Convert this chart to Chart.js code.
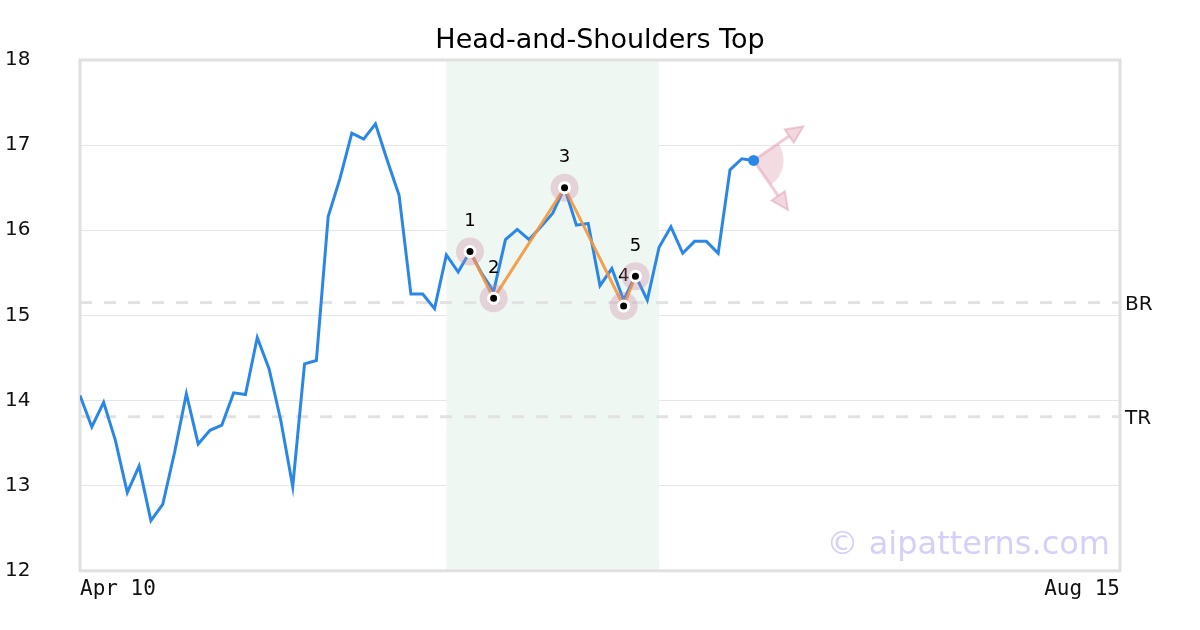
<!DOCTYPE html>
<html>
<head>
<meta charset="utf-8">
<script src="https://cdn.jsdelivr.net/npm/chart.js@4.4.0/dist/chart.umd.min.js"></script>
<style>
  body { margin: 0; background: #fff; }
</style>
</head>
<body>
<canvas id="hsChart" width="1200" height="630"></canvas>
<script>
// price series, one value per session (x = session index)
const prices = [
  14.06, 13.69, 13.98, 13.53, 12.92, 13.23, 12.59, 12.78, 13.39, 14.08,
  13.49, 13.65, 13.71, 14.09, 14.07, 14.74, 14.37, 13.76, 12.99, 14.43,
  14.47, 16.16, 16.61, 17.14, 17.07, 17.25, 16.82, 16.41, 15.25, 15.25,
  15.08, 15.71, 15.51, 15.75, 15.49, 15.28, 15.89, 16.01, 15.89, 16.04,
  16.20, 16.50, 16.06, 16.08, 15.35, 15.55, 15.18, 15.47, 15.18, 15.80,
  16.04, 15.73, 15.87, 15.87, 15.73, 16.71, 16.84, 16.82
]
const xTickLabels = ['Apr 10', 'Aug 15']
const xMax = 88
const chartTitle = 'Head-and-Shoulders Top'

// pattern pivots
const pivotIdx = [33, 35, 41, 46, 47]
const pivotVal = [15.75, 15.20, 16.50, 15.11, 15.46]
const pivotLabels = ['1', '2', '3', '4', '5']

// shaded pattern window (session indices)
const bandStart = 31
const bandEnd = 49

// reference levels
const levelNames = ['BR', 'TR']
const levelValues = [15.15, 13.81]

// projected direction arrows from the last price
const arrowX = [61.2, 59.9]
const arrowY = [17.22, 16.24]

const priceData = prices.map((v, i) => ({ x: i, y: v }))
const pivotData = pivotIdx.map((x, i) => ({ x: x, y: pivotVal[i] }))
const lastIdx = prices.length - 1

function drawArrow(ctx, x0, y0, x1, y1) {
  const ang = Math.atan2(y1 - y0, x1 - x0)
  const head = 17
  const half = 8
  const bx = x1 - head * Math.cos(ang)
  const by = y1 - head * Math.sin(ang)
  ctx.strokeStyle = 'rgba(228,170,188,0.6)'
  ctx.lineWidth = 3
  ctx.beginPath()
  ctx.moveTo(x0, y0)
  ctx.lineTo(bx, by)
  ctx.stroke()
  ctx.beginPath()
  ctx.moveTo(x1, y1)
  ctx.lineTo(bx + half * Math.sin(ang), by - half * Math.cos(ang))
  ctx.lineTo(bx - half * Math.sin(ang), by + half * Math.cos(ang))
  ctx.closePath()
  ctx.fillStyle = 'rgba(238,198,210,0.7)'
  ctx.fill()
  ctx.lineWidth = 2
  ctx.strokeStyle = 'rgba(228,170,188,0.6)'
  ctx.stroke()
}

const patternPlugin = {
  id: 'patternPlugin',
  beforeDatasetsDraw(chart) {
    const { ctx, chartArea, scales } = chart
    const { left, right, top, bottom } = chartArea
    ctx.save()
    // pattern window
    const bx0 = scales.x.getPixelForValue(bandStart)
    const bx1 = scales.x.getPixelForValue(bandEnd)
    ctx.fillStyle = '#eff7f3'
    ctx.fillRect(bx0, top, bx1 - bx0, bottom - top)

    // dashed levels + labels
    ctx.setLineDash([12, 12])
    ctx.strokeStyle = '#e2e2e2'
    ctx.lineWidth = 3
    ctx.font = '20px "DejaVu Sans"'
    ctx.textAlign = 'left'
    ctx.textBaseline = 'middle'
    levelValues.forEach((v, i) => {
      const y = scales.y.getPixelForValue(v)
      ctx.beginPath()
      ctx.moveTo(left, y)
      ctx.lineTo(right, y)
      ctx.stroke()
      ctx.fillStyle = '#111'
      ctx.fillText(levelNames[i], right + 5, y + 2)
    })
    ctx.setLineDash([])

    // frame
    ctx.strokeStyle = '#e0e0e0'
    ctx.lineWidth = 3
    ctx.strokeRect(left, top, right - left, bottom - top)

    // direction wedge + arrows
    const px = scales.x.getPixelForValue(lastIdx)
    const py = scales.y.getPixelForValue(prices[lastIdx])
    const tips = arrowX.map((x, i) => [scales.x.getPixelForValue(x), scales.y.getPixelForValue(arrowY[i])])
    const a1 = Math.atan2(tips[0][1] - py, tips[0][0] - px)
    const a2 = Math.atan2(tips[1][1] - py, tips[1][0] - px)
    ctx.beginPath()
    ctx.moveTo(px, py)
    ctx.arc(px, py, 30, a1, a2)
    ctx.closePath()
    ctx.fillStyle = 'rgba(212,138,158,0.3)'
    ctx.fill()
    tips.forEach(t => drawArrow(ctx, px, py, t[0], t[1]))
    ctx.restore()
  },
  afterDatasetDraw(chart, args) {
    // pivot numbers sit above the orange path, below the halos
    if (args.index !== 1) return
    const { ctx, scales } = chart
    ctx.save()
    ctx.font = '18px "DejaVu Sans"'
    ctx.fillStyle = '#000'
    ctx.textAlign = 'center'
    ctx.textBaseline = 'middle'
    pivotData.forEach((p, i) => {
      ctx.fillText(pivotLabels[i], scales.x.getPixelForValue(p.x), scales.y.getPixelForValue(p.y) - 30)
    })
    ctx.restore()
  },
  afterDraw(chart) {
    const { ctx, chartArea } = chart
    ctx.save()
    // title centred over the plot frame
    ctx.font = '27px "DejaVu Sans"'
    ctx.fillStyle = '#000'
    ctx.textAlign = 'center'
    ctx.textBaseline = 'middle'
    ctx.fillText(chartTitle, (chartArea.left + chartArea.right) / 2, 41)
    // watermark
    ctx.font = '32px "DejaVu Sans"'
    ctx.fillStyle = '#d4d0fa'
    ctx.textAlign = 'right'
    ctx.textBaseline = 'alphabetic'
    ctx.fillText('© aipatterns.com', chartArea.right - 10, chartArea.bottom - 17)
    ctx.restore()
  }
}

const ctx = document.querySelector('#hsChart').getContext('2d')
Chart.defaults.font.family = '"DejaVu Sans"'
Chart.defaults.color = '#111'

const myChart = new Chart(ctx, {
  type: 'line',
  data: {
    datasets: [
      {
        label: 'price',
        data: priceData,
        borderColor: '#2b87e6',
        borderWidth: 3,
        pointRadius: c => c.dataIndex === lastIdx ? 5.5 : 0,
        pointBackgroundColor: '#2b87e6',
        pointBorderWidth: 0,
        tension: 0,
        order: 3
      },
      {
        label: 'pattern',
        data: pivotData,
        borderColor: 'rgba(245,150,60,0.9)',
        borderWidth: 3,
        pointRadius: 0,
        tension: 0,
        order: 2
      },
      {
        label: 'halo',
        data: pivotData,
        showLine: false,
        pointRadius: 14,
        pointBackgroundColor: 'rgba(200,130,155,0.3)',
        pointBorderWidth: 0,
        order: 1
      },
      {
        label: 'pivots',
        data: pivotData,
        showLine: false,
        pointRadius: 5,
        pointBackgroundColor: '#000',
        pointBorderColor: '#fff',
        pointBorderWidth: 3,
        order: 0
      }
    ]
  },
  options: {
    responsive: false,
    animation: false,
    layout: { padding: { left: 5, right: 80, top: 60, bottom: 22 } },
    plugins: {
      legend: { display: false },
      tooltip: { enabled: false },
      title: { display: false }
    },
    scales: {
      x: {
        type: 'linear',
        min: 0,
        max: xMax,
        grid: { display: false, drawTicks: false },
        border: { display: false },
        afterBuildTicks: axis => { axis.ticks = [{ value: 0 }, { value: xMax }] },
        ticks: {
          autoSkip: false,
          maxRotation: 0,
          align: 'inner',
          padding: 6,
          color: '#111',
          font: { family: '"DejaVu Sans Mono"', size: 21 },
          callback: v => v === 0 ? xTickLabels[0] : xTickLabels[1]
        }
      },
      y: {
        min: 12,
        max: 18,
        grid: { color: '#e6e6e6', lineWidth: 1, drawTicks: false },
        border: { display: false },
        afterFit: scale => { scale.width = 75 },
        ticks: {
          stepSize: 1,
          crossAlign: 'far',
          color: '#111',
          font: { size: 20 }
        }
      }
    }
  },
  plugins: [patternPlugin]
})
</script>
</body>
</html>
